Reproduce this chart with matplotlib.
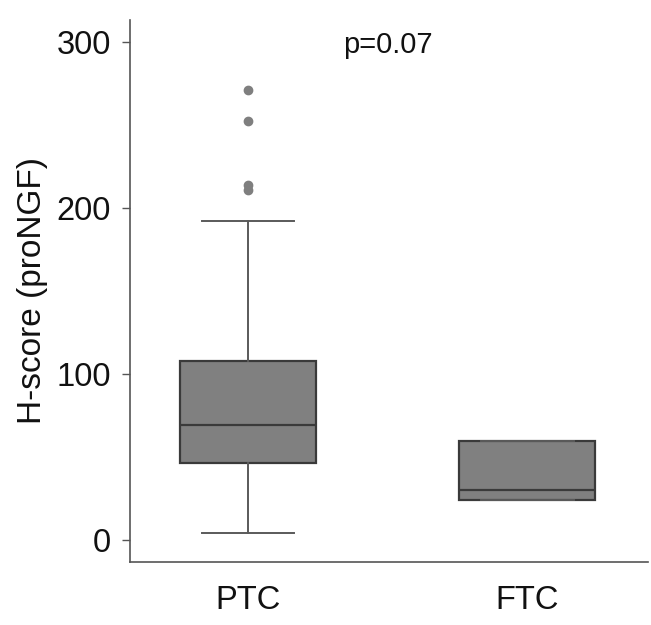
import matplotlib
matplotlib.use("Agg")
import matplotlib.pyplot as plt

plt.rcParams['font.family'] = ['Liberation Sans', 'DejaVu Sans']

categories = ["PTC", "FTC"]
q1 = [46.0, 23.7]
medians = [69.0, 29.7]
q3 = [107.5, 59.6]
whisker_low = [4.0, 23.7]
whisker_high = [192.0, 59.6]
outliers = [[210.5, 213.5, 252.0, 271.0], []]
yticks = [0, 100, 200, 300]
p_text = "p=0.07"

stats = []
for i, c in enumerate(categories):
    stats.append(dict(label=c, q1=q1[i], med=medians[i], q3=q3[i],
                      whislo=whisker_low[i], whishi=whisker_high[i],
                      fliers=outliers[i]))

fig = plt.figure(figsize=(6.51, 6.25), dpi=100)
ax = fig.add_axes([0.2, 0.101, 0.795, 0.867])

edge = "#3a3a3a"
wcol = "#5a5a5a"
ax.bxp(stats, positions=range(len(categories)), widths=0.486, patch_artist=True,
       boxprops=dict(facecolor="#808080", edgecolor=edge, linewidth=1.6),
       medianprops=dict(color=edge, linewidth=1.6),
       whiskerprops=dict(color=wcol, linewidth=1.4),
       capprops=dict(color=wcol, linewidth=1.4),
       capwidths=0.33,
       flierprops=dict(marker="o", markerfacecolor="#7f7f7f", markeredgecolor="#7f7f7f",
                       markersize=6))

ax.set_xlim(-0.42, 1.43)
ax.set_ylim(-13.3, 313)
ax.set_yticks(yticks)
ax.set_xticks(range(len(categories)))
ax.set_xticklabels(categories)

for s in ["top", "right"]:
    ax.spines[s].set_visible(False)
for s in ["left", "bottom"]:
    ax.spines[s].set_color("#555555")
    ax.spines[s].set_linewidth(1.2)

ax.tick_params(axis="y", length=6, width=1.0, color="#555555", pad=8, labelsize=23.5,
               labelcolor="#111111")
ax.tick_params(axis="x", length=0, pad=17, labelsize=23.5, labelcolor="#111111")
ax.set_ylabel("H-score (proNGF)", fontsize=24, labelpad=6, color="#111111")

ax.text(0.5, 298, p_text, ha="center", va="center", fontsize=21, color="#111111")

fig.savefig("out.png", dpi=100)
